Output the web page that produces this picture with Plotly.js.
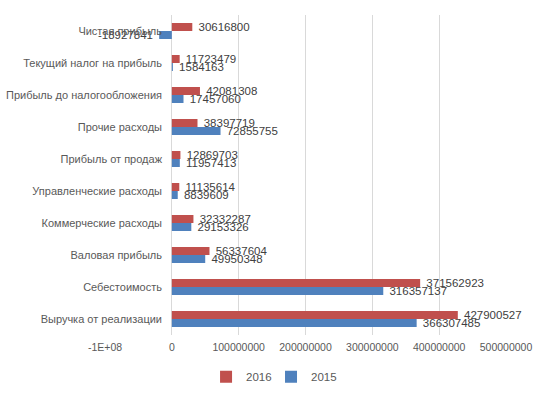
<!DOCTYPE html>
<html><head><meta charset="utf-8">
<script src="https://cdn.plot.ly/plotly-3.0.1.min.js"></script>
<style>html,body{margin:0;padding:0;background:#fff}#chart{width:548px;height:395px}</style>
</head><body><div id="chart"></div>
<script>
const categories = ["Выручка от реализации","Себестоимость","Валовая прибыль","Коммерческие расходы","Управленческие расходы","Прибыль от продаж","Прочие расходы","Прибыль до налогообложения","Текущий налог на прибыль","Чистая прибыль"];
const values2016 = [427900527,371562923,56337604,32332287,11135614,12869703,38397719,42081308,11723479,30616800];
const values2015 = [366307485,316357137,49950348,29153326,8839609,11957413,72855755,17457060,1584163,-18927841];
const tickValues = [-100000000,0,100000000,200000000,300000000,400000000,500000000];
const tickLabels = ["-1E+08","0","100000000","200000000","300000000","400000000","500000000"];

const fnt = {family:"Liberation Sans, Arial, sans-serif", size:11.5, color:"#404040"};
function tr(name, vals, color, leg){
  return {type:"bar", orientation:"h", name:name, y:categories, x:vals, legend:leg,
    marker:{color:color}, text:vals.map(v => v >= 0 ? "\u00A0" + v : v + "\u00A0"), textposition:"outside",
    textangle:0, constraintext:"none", cliponaxis:false, textfont:fnt, hoverinfo:"none"};
}
const data = [tr("2015", values2015, "#4F81BD", "legend2"), tr("2016", values2016, "#C0504D", "legend")];
const legBase = {orientation:"h", y:-0.085, yanchor:"top", xanchor:"left", itemwidth:30,
  bgcolor:"rgba(0,0,0,0)", font:{size:11.5,color:"#595959"}};
const layout = {
  width:548, height:395, margin:{l:105,r:42,t:15,b:60,autoexpand:false},
  paper_bgcolor:"#fff", plot_bgcolor:"#fff",
  barmode:"group", bargap:0.5, bargroupgap:0,
  font:{family:"Liberation Sans, Arial, sans-serif", size:11.5, color:"#595959"},
  xaxis:{range:[-100000000,500000000], tickvals:tickValues, ticktext:tickLabels,
    showgrid:true, gridcolor:"#D9D9D9", zeroline:true, zerolinecolor:"#D9D9D9", zerolinewidth:1,
    showline:false, ticks:"", tickfont:{size:10.5,color:"#595959"}, ticklabelstandoff:4, automargin:false},
  yaxis:{type:"category", anchor:"free", position:0.1671, showgrid:false, zeroline:false,
    showline:false, ticks:"", ticklen:0, ticklabelstandoff:10, tickfont:{size:11,color:"#595959"}, automargin:false},
  showlegend:true,
  legend:Object.assign({}, legBase, {x:0.252}),
  legend2:Object.assign({}, legBase, {x:0.414})
};
Plotly.newPlot("chart", data, layout, {displayModeBar:false, staticPlot:true});
</script></body></html>
